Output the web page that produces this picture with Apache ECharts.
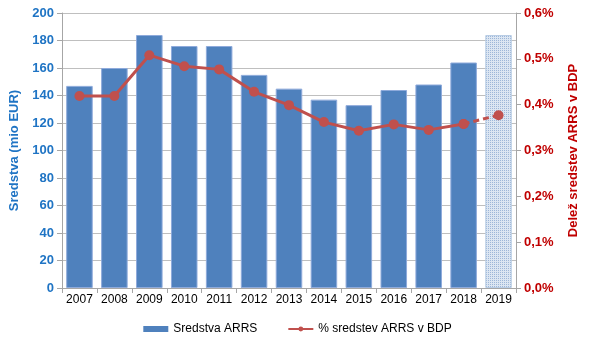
<!DOCTYPE html>
<html>
<head>
<meta charset="utf-8">
<script src="https://cdn.jsdelivr.net/npm/echarts@6/dist/echarts.min.js"></script>
<style>html,body{margin:0;padding:0;background:#fff}#main{width:595px;height:348px}</style>
</head>
<body>
<div id="main"></div>
<script>
// podatki
var years = ['2007', '2008', '2009', '2010', '2011', '2012', '2013', '2014', '2015', '2016', '2017', '2018', '2019'];
var sredstva = [147, 160, 184, 176, 176, 155, 145, 137, 133, 144, 148, 164, 184];
var delez = [0.419, 0.419, 0.508, 0.484, 0.477, 0.428, 0.399, 0.362, 0.343, 0.357, 0.345, 0.358, 0.377];
var leftTicks = [0, 20, 40, 60, 80, 100, 120, 140, 160, 180, 200];
var rightTicks = [0, 0.1, 0.2, 0.3, 0.4, 0.5, 0.6];

var chart = echarts.init(document.getElementById('main'));

// vzorec za 2019 (ocena)
var pc = document.createElement('canvas');
pc.width = 4; pc.height = 4;
var pctx = pc.getContext('2d');
pctx.fillStyle = '#dce6f2';
pctx.fillRect(0, 0, 4, 4);
pctx.fillStyle = '#9db6d8';
pctx.fillRect(0, 0, 1, 1);
pctx.fillRect(2, 2, 1, 1);
pctx.fillRect(2, 0, 1, 1);
pctx.fillRect(0, 2, 1, 1);

var last = years.length - 1;
var barData = sredstva.map(function (v, i) {
    if (i === last) {
        return { value: v, itemStyle: { color: { image: pc, repeat: 'repeat' }, borderColor: '#b9cde5' } };
    }
    return v;
});
var solid = delez.map(function (v, i) { return i < last ? v : '-'; });
var dashed = delez.map(function (v, i) { return i >= last - 1 ? v : '-'; });

var font = 'Liberation Sans, Arial, sans-serif';

var option = {
    animation: false,
    backgroundColor: '#fff',
    textStyle: { fontFamily: font },
    grid: { left: 62, right: 79, top: 13, bottom: 60, containLabel: false, outerBoundsMode: 'none' },
    legend: {
        bottom: 8,
        left: 'center',
        itemGap: 30,
        textStyle: { fontSize: 12, color: '#000', fontFamily: font },
        data: [
            { name: 'Sredstva ARRS', icon: 'rect', itemStyle: { color: '#4f81bd', borderWidth: 0 } },
            { name: '% sredstev ARRS v BDP' }
        ],
        itemWidth: 25,
        itemHeight: 6
    },
    xAxis: {
        type: 'category',
        data: years,
        axisLine: { lineStyle: { color: '#a6a6a6' } },
        axisTick: { show: true, length: 5, lineStyle: { color: '#a6a6a6' } },
        axisLabel: { color: '#000', fontSize: 12, margin: 6, interval: 0 }
    },
    yAxis: [{
        type: 'value',
        min: 0,
        max: 200,
        interval: 20,
        name: 'Sredstva (mio EUR)',
        nameLocation: 'middle',
        nameRotate: 90,
        nameGap: 37,
        nameTextStyle: { color: '#1f74c4', fontWeight: 'bold', fontSize: 13 },
        axisLine: { show: true, lineStyle: { color: '#a6a6a6' } },
        axisTick: { show: true, length: 5, lineStyle: { color: '#a6a6a6' } },
        splitLine: { lineStyle: { color: '#bfbfbf' } },
        axisLabel: {
            color: '#1f74c4', fontWeight: 'bold', fontSize: 13, margin: 8,
            formatter: function (v) { return leftTicks.indexOf(v) >= 0 ? String(v) : ''; }
        }
    }, {
        type: 'value',
        min: 0,
        max: 0.6,
        interval: 0.1,
        name: 'Delež sredstev ARRS v BDP',
        nameLocation: 'middle',
        nameRotate: 90,
        nameGap: 51,
        nameTextStyle: { color: '#c00000', fontWeight: 'bold', fontSize: 13 },
        axisLine: { show: true, lineStyle: { color: '#a6a6a6' } },
        axisTick: { show: true, length: 5, lineStyle: { color: '#a6a6a6' } },
        splitLine: { show: false },
        axisLabel: {
            color: '#c00000', fontWeight: 'bold', fontSize: 13, margin: 8,
            formatter: function (v) {
                var r = rightTicks.filter(function (t) { return Math.abs(t - v) < 1e-9; });
                return r.length ? v.toFixed(1).replace('.', ',') + '%' : '';
            }
        }
    }],
    series: [{
        name: 'Sredstva ARRS',
        type: 'bar',
        barWidth: '76%',
        itemStyle: { color: '#4f81bd', borderColor: '#8eaadb', borderWidth: 1 },
        data: barData
    }, {
        name: '% sredstev ARRS v BDP',
        type: 'line',
        yAxisIndex: 1,
        symbol: 'circle',
        symbolSize: 10,
        itemStyle: { color: '#c0504d' },
        lineStyle: { color: '#c0504d', width: 3 },
        data: solid
    }, {
        name: 'dashed',
        type: 'line',
        yAxisIndex: 1,
        symbol: 'circle',
        symbolSize: 10,
        itemStyle: { color: '#c0504d' },
        lineStyle: { color: '#c0504d', width: 3, type: [6, 4] },
        data: dashed
    }]
};
chart.setOption(option);
</script>
</body>
</html>
